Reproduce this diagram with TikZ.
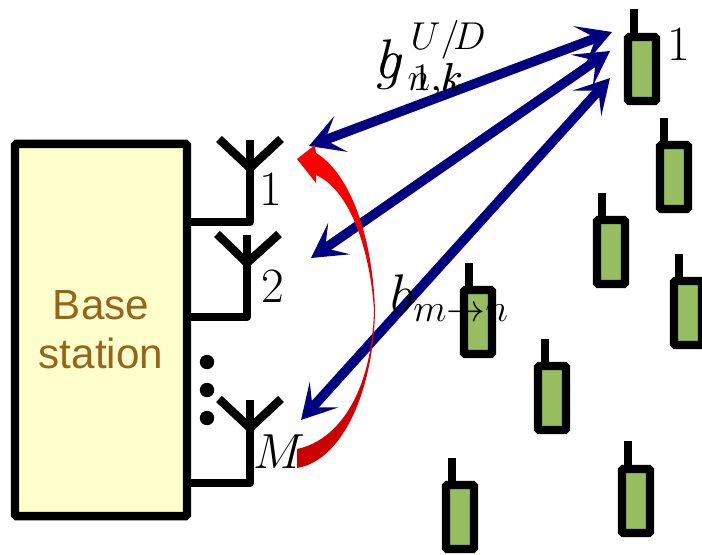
\documentclass[tikz,border=0pt]{standalone}
\usepackage{fontspec}
\setsansfont{Liberation Sans}
\usetikzlibrary{arrows.meta,positioning}
\definecolor{bsfill}{RGB}{255,255,204}
\definecolor{bstext}{RGB}{152,99,26}
\definecolor{uefill}{RGB}{150,190,96}
\definecolor{linkblue}{RGB}{0,0,128}
\definecolor{curvered}{RGB}{200,0,0}
\begin{document}
\begin{tikzpicture}[x=0.025cm,y=-0.025cm]
\tikzstyle{wire}=[line width=6pt,line join=round,draw=black]
\tikzstyle{ue}=[rectangle,draw=black,fill=uefill,line width=6pt,rounded corners=1pt,
inner sep=0pt,outer sep=0pt,minimum width=0.7cm,minimum height=1.6cm]
\tikzstyle{bs}=[rectangle,draw=black,fill=bsfill,line width=6pt,rounded corners=1pt,
inner sep=0pt,outer sep=0pt,minimum width=4.3cm,minimum height=9.3cm,
font=\sffamily\fontsize{30}{35}\selectfont,text=bstext,align=center]
\tikzstyle{dot}=[circle,fill=black,inner sep=0pt,outer sep=0pt,minimum size=0.36cm]
\tikzstyle{tag}=[inner sep=0pt,outer sep=0pt,font=\LARGE,scale=2.03,transform shape]
\tikzstyle{mlabel}=[inner sep=0pt,outer sep=0pt,anchor=base west,font=\LARGE,scale=2.3,transform shape]
\tikzstyle{link}=[line width=6.8pt,draw=linkblue,
{Stealth[length=0.85cm,width=0.95cm,inset=0.42cm]}-{Stealth[length=0.85cm,width=0.95cm,inset=0.42cm]}]
\useasboundingbox (0,0) rectangle (702,554);
\clip (0,0) rectangle (702,554);

\node[bs] at (101,330) (bs) {Base\\station};

% antennas
\coordinate (a1) at (250,168);
\coordinate (a2) at (247,263);
\coordinate (a3) at (250,428);
\draw[wire] (219,139) -- (a1) -- (281,139);
\draw[wire] (250,140) -- (a1) -- (250,222) -- (bs.east |- 250,222);
\draw[wire] (217,234) -- (a2) -- (279,234);
\draw[wire] (247,235) -- (a2) -- (247,317) -- (bs.east |- 247,317);
\draw[wire] (219,399) -- (a3) -- (281,399);
\draw[wire] (250,400) -- (a3) -- (250,483) -- (bs.east |- 250,483);
\node[tag] at (271,190) (t1) {$1$};
\node[tag] at (273,287) (t2) {$2$};
\node[tag] at (279,452) (t3) {$M$};
\node[dot] at (207,362) (d1) {};
\node[dot,below of =d1,node distance=0.7cm] (d2) {};
\node[dot,below of =d2,node distance=0.7cm] (d3) {};

% users
\node[ue] at (642,69) (u1) {};
\node[ue] at (674,177) (u2) {};
\node[ue] at (611,252) (u3) {};
\node[ue] at (688,313) (u4) {};
\node[ue] at (478,322) (u5) {};
\node[ue] at (552,398) (u6) {};
\node[ue] at (460,517) (u7) {};
\node[ue] at (636,501) (u8) {};
\coordinate (h1) at (634,9);
\coordinate (h2) at (664,118);
\coordinate (h3) at (602,193);
\coordinate (h4) at (679,254);
\coordinate (h5) at (469,263);
\coordinate (h6) at (545,339);
\coordinate (h7) at (452,458);
\coordinate (h8) at (628,441);
\draw[wire] (h1) -- (h1 |- u1.north);
\draw[wire] (h2) -- (h2 |- u2.north);
\draw[wire] (h3) -- (h3 |- u3.north);
\draw[wire] (h4) -- (h4 |- u4.north);
\draw[wire] (h5) -- (h5 |- u5.north);
\draw[wire] (h6) -- (h6 |- u6.north);
\draw[wire] (h7) -- (h7 |- u7.north);
\draw[wire] (h8) -- (h8 |- u8.north);
\node[tag] at (679,45) (t4) {$1$};

% links
\coordinate (l1a) at (309,146);
\coordinate (l1b) at (612,32);
\coordinate (l2a) at (311,258);
\coordinate (l2b) at (610,51);
\coordinate (l3a) at (301,420);
\coordinate (l3b) at (610,78);
\draw[link] (l3a) -- (l3b);
\draw[link] (l1a) -- (l1b);
\draw[link] (l2a) -- (l2b);

% curved arrow between antennas
\shade[top color=red,middle color=red,bottom color=curvered]
(297,159) -- (315,145) -- (316,153)
.. controls (345,170) and (372,225) .. (375,310)
.. controls (374,385) and (345,460) .. (297,468)
-- (297,449)
.. controls (340,440) and (372,390) .. (374,310)
.. controls (370,250) and (350,190) .. (316,175)
-- (316,183) -- cycle;

% channel labels
\node[mlabel] at (376,78) (lg) {$g^{\raisebox{-1.5pt}{$\scriptstyle\,U/\!D$}}_{\,\phantom{n}\llap{$\scriptstyle 1$},k}$};
\node[mlabel] at (378,78) (lb) {$b^{\phantom{U/D}}_{\,n,k}$};
\node[mlabel] at (390,313) (lm) {$b_{m\to n}$};
\end{tikzpicture}
\end{document}
